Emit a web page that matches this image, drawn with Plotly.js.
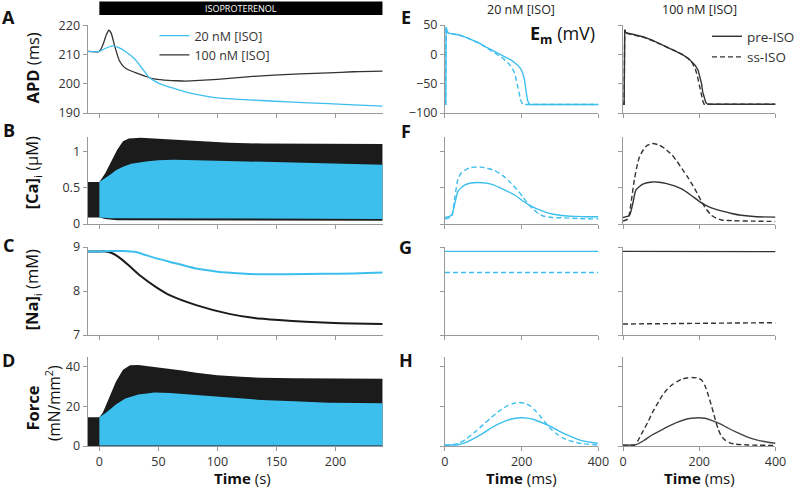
<!DOCTYPE html>
<html><head><meta charset="utf-8">
<script src="https://cdn.plot.ly/plotly-3.0.1.min.js"></script>
<style>html,body{margin:0;padding:0;background:#fff}#c{width:800px;height:489px}</style>
</head><body><div id="c"></div>
<script>
// ---------- DATA ----------
// Panel A: APD (ms) vs time (s)
const apd20_t = [-10, 0, 5, 11, 16, 23, 30, 36, 42, 50, 55, 67, 80, 95, 115, 137, 160, 194, 220, 240];
const apd20   = [211.2, 211.2, 212.2, 213.1, 212.6, 210.9, 208.6, 205.5, 202.3, 200.3, 199.5, 198, 196.6, 195.5, 194.8, 194.3, 193.8, 193.2, 192.7, 192.4];
const apd100_t = [-10, 0, 3, 6, 8, 10, 13, 17, 21, 25, 30, 38, 45, 55, 65, 73, 85, 100, 115, 130, 152, 170, 194, 215, 240];
const apd100   = [211.2, 211.2, 213.5, 217, 218.5, 217.5, 213, 208, 205.8, 204.8, 204, 202.8, 201.8, 201.3, 201.1, 201, 201.2, 201.6, 202.1, 202.6, 203.1, 203.5, 203.8, 204.2, 204.4];
// Panel B: [Ca]i envelopes (uM)
const caBlkHi_t = [-10, 0, 5, 10, 15, 20, 25, 35, 45, 60, 82, 110, 137, 180, 240];
const caBlkHi   = [0.58, 0.58, 0.7, 0.86, 1.02, 1.14, 1.18, 1.19, 1.18, 1.16, 1.14, 1.12, 1.11, 1.105, 1.105];
const caBlkLo_t = [-10, 0, 5, 15, 30, 240];
const caBlkLo   = [0.09, 0.09, 0.07, 0.05, 0.045, 0.045];
const caBluHi_t = [0, 5, 10, 14, 20, 27, 34, 41, 50, 63, 82, 110, 137, 165, 194, 220, 240];
const caBluHi   = [0.58, 0.63, 0.69, 0.74, 0.79, 0.83, 0.85, 0.867, 0.88, 0.886, 0.88, 0.87, 0.858, 0.848, 0.836, 0.826, 0.818];
const caBluLo_t = [0, 10, 20, 240];
const caBluLo   = [0.09, 0.08, 0.075, 0.07];
// Panel C: [Na]i (mM)
const na20_t = [-10, 0, 10, 20, 30, 40, 50, 60, 82, 100, 120, 137, 160, 190, 215, 240];
const na20   = [8.9, 8.9, 8.91, 8.91, 8.89, 8.81, 8.73, 8.66, 8.51, 8.44, 8.4, 8.38, 8.38, 8.39, 8.4, 8.42];
const na100_t = [-10, 0, 5, 10, 17, 25, 35, 48, 60, 82, 110, 130, 152, 175, 194, 215, 240];
const na100   = [8.9, 8.9, 8.9, 8.87, 8.76, 8.58, 8.34, 8.09, 7.9, 7.68, 7.48, 7.39, 7.34, 7.3, 7.28, 7.26, 7.25];
// Panel D: Force envelopes (mN/mm2)
const fBlkHi_t = [-10, 0, 3, 8, 14, 20, 26, 33, 45, 56, 70, 82, 100, 120, 137, 165, 194, 240];
const fBlkHi   = [14.5, 14.5, 17, 24, 32.5, 38.5, 40.8, 41, 40.2, 39.3, 38.2, 37, 35.8, 35, 34.5, 34.2, 34, 34];
const fBlkLo_t = [-10, 240];
const fBlkLo   = [0, 0];
const fBluHi_t = [0, 5, 10, 14, 22, 33, 47, 60, 82, 110, 137, 165, 194, 220, 240];
const fBluHi   = [14.5, 16.5, 19, 21, 24, 26.1, 27, 26.8, 25.8, 24.5, 23.3, 22.6, 21.9, 21.7, 21.6];
const fBluLo_t = [0, 240];
const fBluLo   = [0.3, 0.3];
// Panel E: Em (mV) vs time (ms)
const em20pre_t = [0, 2, 3, 5, 9, 20, 37, 55, 71, 90, 105, 120, 139, 155, 173, 190, 198, 203, 207, 211, 215, 219, 222, 230, 300, 400];
const em20pre   = [-85, -85, 47, 40, 36, 35, 33, 29, 24.5, 19, 13, 8, 1.6, -4, -10, -18.4, -25, -32.6, -42, -60, -78, -84, -85.5, -85.6, -85.6, -85.6];
const em20iso_t = [0, 2, 3, 5, 9, 20, 37, 55, 71, 90, 105, 120, 130, 139, 150, 165, 175, 182, 186, 190, 194, 197, 200, 203, 210, 300, 400];
const em20iso   = [-85, -85, 47, 40, 36, 35, 33, 29, 24.5, 18.5, 12.5, 6.5, 2.5, -1, -6, -15, -23, -32.6, -43, -55.5, -68, -78, -83, -85.6, -85.6, -85.6, -85.6];
const em100pre_t = [0, 3, 4.5, 7, 20, 52, 75, 95, 115, 138, 155, 172, 189, 197, 202, 206, 209, 213, 217, 221, 224, 240, 300, 400];
const em100pre   = [-85, -85, 42, 37.5, 35, 30, 24.5, 18.7, 12.5, 5.5, 0, -7, -18.4, -27, -38, -50, -64, -75, -82, -84.5, -85, -85, -85, -85];
const em100iso_t = [0, 3, 4.5, 7, 20, 52, 75, 95, 115, 138, 155, 172, 182, 189, 194, 198, 202, 206, 210, 213, 220, 300, 400];
const em100iso   = [-85, -85, 42, 36, 34, 29.5, 24, 18.5, 12.5, 5.5, 0, -8, -15, -24, -34, -46, -60, -72.6, -81, -85, -85, -85, -85];
// Panel F: Ca transient (uM)
const ca20pre_t = [0, 17, 26, 34, 51, 68, 85, 100, 120, 140, 162, 185, 205, 225, 248, 270, 291, 320, 342, 370, 400];
const ca20pre   = [0.09, 0.12, 0.29, 0.45, 0.535, 0.565, 0.573, 0.568, 0.55, 0.51, 0.455, 0.39, 0.31, 0.245, 0.19, 0.15, 0.127, 0.11, 0.105, 0.1, 0.1];
const ca20iso_t = [0, 17, 26, 34, 42, 51, 68, 94, 110, 128, 150, 171, 190, 205, 218, 231, 245, 256, 280, 308, 350, 400];
const ca20iso   = [0.07, 0.1, 0.38, 0.62, 0.7, 0.74, 0.78, 0.785, 0.77, 0.74, 0.67, 0.57, 0.46, 0.36, 0.27, 0.2, 0.14, 0.11, 0.09, 0.085, 0.075, 0.07];
const ca100pre_t = [0, 17, 26, 34, 52, 77, 95, 112, 135, 155, 180, 206, 230, 258, 285, 310, 350, 400];
const ca100pre   = [0.09, 0.12, 0.29, 0.47, 0.55, 0.58, 0.575, 0.56, 0.525, 0.48, 0.39, 0.29, 0.225, 0.18, 0.145, 0.12, 0.1, 0.095];
const ca100iso_t = [0, 13, 21, 30, 43, 60, 77, 94, 110, 129, 142, 155, 168, 181, 194, 206, 219, 232, 245, 258, 290, 340, 400];
const ca100iso   = [0.04, 0.07, 0.29, 0.62, 0.925, 1.07, 1.11, 1.09, 1.04, 0.95, 0.86, 0.76, 0.66, 0.55, 0.43, 0.31, 0.2, 0.12, 0.08, 0.056, 0.045, 0.04, 0.035];
// Panel G: [Na]i (mM)
const naBeat_t = [0, 400];
const na20pre = [8.9, 8.9];
const na20iso = [8.42, 8.42];
const na100pre = [8.9, 8.895];
const na100iso = [7.25, 7.28];
// Panel H: Force (mN/mm2)
const fr20pre_t = [0, 34, 55, 77, 100, 120, 140, 162, 180, 197, 215, 231, 250, 274, 295, 317, 340, 360, 380, 398];
const fr20pre   = [0.5, 0.6, 1.8, 4, 6.5, 9.1, 11.2, 13, 13.9, 14.3, 14.1, 13.4, 12, 10, 7.8, 5.7, 3.9, 2.6, 1.9, 1.4];
const fr20iso_t = [0, 34, 55, 77, 100, 120, 140, 162, 180, 193, 208, 222, 235, 248, 261, 274, 290, 308, 330, 351, 375, 400];
const fr20iso   = [0.3, 1.2, 3.5, 6.9, 10.8, 14.3, 17.5, 20.3, 21.6, 22, 21.6, 20.3, 18, 15.2, 12.1, 9.1, 6.3, 4, 2.4, 1.4, 0.8, 0.5];
const fr100pre_t = [0, 34, 55, 77, 100, 120, 140, 163, 180, 198, 215, 232, 255, 275, 300, 327, 350, 370, 400];
const fr100pre   = [0.5, 0.7, 2.8, 5.7, 8, 10, 11.8, 13.4, 14, 14.3, 14, 13, 11.2, 9.1, 6.8, 4.5, 3.1, 2.3, 1.4];
const fr100iso_t = [0, 30, 40, 52, 65, 77, 90, 103, 116, 129, 142, 155, 168, 181, 194, 206, 215, 224, 231, 237, 244, 250, 258, 267, 280, 293, 330, 400];
const fr100iso   = [0, 0.5, 3, 7.4, 12, 16.9, 21.3, 25.5, 28.7, 31, 32.6, 33.8, 34.4, 34.6, 34.4, 33.4, 30.5, 25.5, 21, 16.9, 12, 8.3, 5, 3.1, 1.6, 1, 0.5, 0.3];

// tick labels
const secTicks = [0, 50, 100, 150, 200];
const msTicks = [0, 200, 400];

// ---------- STYLE ----------
const BLUE = '#3dbfee', BLK = '#1b1b1b', DARK = '#333333';
const FONT = 'Open Sans, Noto Sans, sans-serif';
const W = 800, H = 489;
const px = x => x / W, py = y => 1 - y / H;

function band(tHi, hi, tLo, lo, color, xa, ya) {
  return {x: tHi.concat(tLo.slice().reverse()), y: hi.concat(lo.slice().reverse()),
    type: 'scatter', mode: 'lines', fill: 'toself', fillcolor: color,
    line: {width: 0, color: color}, xaxis: xa, yaxis: ya, showlegend: false, hoverinfo: 'skip'};
}
function line(t, v, color, width, dash, xa, ya, extra) {
  return Object.assign({x: t, y: v, type: 'scatter', mode: 'lines',
    line: {color: color, width: width, dash: dash || 'solid', shape: 'linear'},
    xaxis: xa, yaxis: ya, showlegend: false}, extra || {});
}
const DASH = '5px,3px';

const traces = [
  // A
  line(apd100_t, apd100, DARK, 1.3, null, 'x', 'y', {showlegend: true, name: '100 nM [ISO]', legendrank: 2}),
  line(apd20_t, apd20, BLUE, 1.3, null, 'x', 'y', {showlegend: true, name: '20 nM [ISO]', legendrank: 1}),
  // B
  band(caBlkHi_t, caBlkHi, caBlkLo_t, caBlkLo, BLK, 'x2', 'y2'),
  band(caBluHi_t, caBluHi, caBluLo_t, caBluLo, BLUE, 'x2', 'y2'),
  // C
  line(na100_t, na100, BLK, 2, null, 'x3', 'y3'),
  line(na20_t, na20, BLUE, 2, null, 'x3', 'y3'),
  // D
  band(fBlkHi_t, fBlkHi, fBlkLo_t, fBlkLo, BLK, 'x4', 'y4'),
  band(fBluHi_t, fBluHi, fBluLo_t, fBluLo, BLUE, 'x4', 'y4'),
  // E
  line(em20pre_t, em20pre, BLUE, 1.4, null, 'x5', 'y5'),
  line(em20iso_t, em20iso, BLUE, 1.4, DASH, 'x5', 'y5'),
  line(em100pre_t, em100pre, DARK, 1.4, null, 'x6', 'y6', {showlegend: true, name: 'pre-ISO', legend: 'legend2'}),
  line(em100iso_t, em100iso, DARK, 1.4, DASH, 'x6', 'y6', {showlegend: true, name: 'ss-ISO', legend: 'legend2'}),
  // F
  line(ca20pre_t, ca20pre, BLUE, 1.4, null, 'x7', 'y7'),
  line(ca20iso_t, ca20iso, BLUE, 1.4, DASH, 'x7', 'y7'),
  line(ca100pre_t, ca100pre, DARK, 1.4, null, 'x8', 'y8'),
  line(ca100iso_t, ca100iso, DARK, 1.4, DASH, 'x8', 'y8'),
  // G
  line(naBeat_t, na20pre, BLUE, 1.4, null, 'x9', 'y9'),
  line(naBeat_t, na20iso, BLUE, 1.4, DASH, 'x9', 'y9'),
  line(naBeat_t, na100pre, DARK, 1.4, null, 'x10', 'y10'),
  line(naBeat_t, na100iso, DARK, 1.4, DASH, 'x10', 'y10'),
  // H
  line(fr20pre_t, fr20pre, BLUE, 1.4, null, 'x11', 'y11'),
  line(fr20iso_t, fr20iso, BLUE, 1.4, DASH, 'x11', 'y11'),
  line(fr100pre_t, fr100pre, '#444', 1.4, null, 'x12', 'y12'),
  line(fr100iso_t, fr100iso, DARK, 1.4, DASH, 'x12', 'y12')
];
// smooth the physiological curves
traces.forEach(t => { if (!t.fill && !['x5','x6'].includes(t.xaxis)) t.line.shape = 'spline'; t.line.smoothing = 0.6; });

// ---------- LAYOUT ----------
const rows = [[25, 113], [137, 224], [247, 335], [357, 446]];
const colL = [89, 389], colE1 = [452.3, 608.3], colE2 = [633.3, 788.3];
const axBase = {showline: true, linecolor: '#9a9a9a', linewidth: 1, ticks: 'outside', ticklen: 4,
  tickcolor: '#9a9a9a', tickfont: {size: 12.5, color: '#333', family: FONT}, showgrid: false, zeroline: false,
  fixedrange: true};
const layout = {width: W, height: H, margin: {l: 0, r: 0, t: 0, b: 0}, paper_bgcolor: '#fff', plot_bgcolor: 'rgba(0,0,0,0)',
  font: {family: FONT, color: '#222'},
  legend: {x: px(157), y: py(21), xanchor: 'left', yanchor: 'top', bgcolor: 'rgba(0,0,0,0)',
    font: {size: 12.5, color: '#333', family: FONT}, tracegroupgap: 0, itemwidth: 30},
  legend2: {x: px(719), y: py(21), xanchor: 'left', yanchor: 'top', bgcolor: 'rgba(0,0,0,0)',
    font: {size: 13.5, color: '#333', family: FONT}, tracegroupgap: 0, itemwidth: 30},
  annotations: [], shapes: []};

const yRanges = [[190, 220.3], [0, 1.2], [7, 9], [0, 45]];
const yTicks = [[190, 200, 210, 220], [0, 0.5, 1], [7, 8, 9], [0, 20, 40]];
function dom(c) { return [px(c[0]), px(c[1])]; }
function ydom(r) { return [py(r[1]), py(r[0])]; }
for (let r = 0; r < 4; r++) {
  const n = r + 1;
  layout['xaxis' + (n === 1 ? '' : n)] = Object.assign({}, axBase, {domain: dom(colL), range: [-10, 240],
    tickvals: secTicks, showticklabels: r === 3, anchor: 'y' + (n === 1 ? '' : n)});
  layout['yaxis' + (n === 1 ? '' : n)] = Object.assign({}, axBase, {domain: ydom(rows[r]), range: yRanges[r],
    tickvals: yTicks[r], anchor: 'x' + (n === 1 ? '' : n)});
  const a = 5 + r * 2, b = 6 + r * 2;
  const eR = r === 0 ? [-100, 50] : yRanges[r];
  const eT = r === 0 ? [-100, -50, 0, 50] : yTicks[r];
  layout['xaxis' + a] = Object.assign({}, axBase, {domain: dom(colE1), range: [0, 400], tickvals: msTicks, showticklabels: r === 3, anchor: 'y' + a});
  layout['yaxis' + a] = Object.assign({}, axBase, {domain: ydom(rows[r]), range: eR, tickvals: eT, showticklabels: r === 0, anchor: 'x' + a});
  layout['xaxis' + b] = Object.assign({}, axBase, {domain: dom(colE2), range: [0, 400], tickvals: msTicks, showticklabels: r === 3, anchor: 'y' + b});
  layout['yaxis' + b] = Object.assign({}, axBase, {domain: ydom(rows[r]), range: eR, tickvals: eT, showticklabels: false, anchor: 'x' + b});
}

function ann(text, x, y, size, opts) {
  layout.annotations.push(Object.assign({text: text, x: px(x), y: py(y), xref: 'paper', yref: 'paper',
    showarrow: false, font: {size: size, color: '#111', family: FONT}, xanchor: 'center', yanchor: 'middle'}, opts || {}));
}
// panel letters
[['A', 16.5], ['B', 130], ['C', 245], ['D', 360]].forEach(p => ann('<b>' + p[0] + '</b>', 9, p[1], 18));
[['E', 16.5], ['F', 131], ['G', 247], ['H', 360]].forEach(p => ann('<b>' + p[0] + '</b>', 412.5, p[1], 18));
// y titles
ann('<b>APD</b> (ms)', 33, 68, 16.5, {textangle: -90});
ann('<b>[Ca]</b><sub>i</sub> (μM)', 33, 172, 16.5, {textangle: -90});
ann('<b>[Na]</b><sub>i</sub> (mM)', 33, 289, 16.5, {textangle: -90});
ann('<b>Force</b>', 33, 408, 16.5, {textangle: -90});
ann('(mN/mm<sup>2</sup>)', 54, 403, 15.5, {textangle: -90});
// x titles
ann('<b>Time</b> (s)', 247, 477.5, 15);
ann('<b>Time</b> (ms)', 530, 477.5, 15);
ann('<b>Time</b> (ms)', 711, 477.5, 15);
// column titles
ann('20 nM [ISO]', 530, 10, 12.5, {font: {size: 12.5, color: '#222', family: FONT}});
ann('100 nM [ISO]', 711, 10, 12.5, {font: {size: 12.5, color: '#222', family: FONT}});
ann('<b>E</b><sub><b>m</b></sub> (mV)', 607, 34, 18, {xanchor: 'right'});
// isoproterenol bar
layout.shapes.push({type: 'rect', xref: 'x', yref: 'paper', x0: 0, x1: 240, y0: py(15), y1: py(1.5),
  fillcolor: '#000', line: {width: 0}});
layout.annotations.push({text: 'ISOPROTERENOL', x: 120, xref: 'x', y: py(8.5), yref: 'paper', showarrow: false,
  font: {size: 9, color: '#fff', family: FONT}, xanchor: 'center', yanchor: 'middle'});

Plotly.newPlot('c', traces, layout, {displayModeBar: false, staticPlot: true});
</script></body></html>
